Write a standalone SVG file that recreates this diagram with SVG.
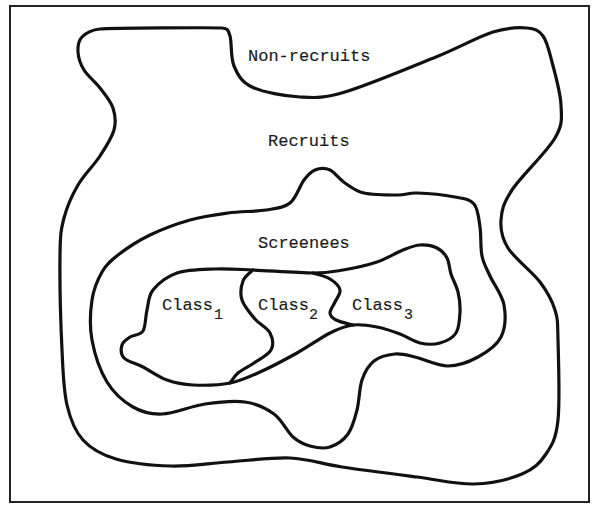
<svg xmlns="http://www.w3.org/2000/svg" width="595" height="508" viewBox="0 0 595 508">
<style>
.bd{fill:none;stroke:#111;stroke-width:3.2;stroke-linejoin:round;stroke-linecap:round}
.fr{fill:none;stroke:#222;stroke-width:2}
.lb{font-family:"Liberation Mono","Courier New",monospace;font-size:17px;fill:#1a1a1a;stroke:#1a1a1a;stroke-width:0.15}
.sb{font-size:15px}
</style>
<rect width="595" height="508" fill="#fff"/>
<rect class="fr" x="10" y="6" width="579" height="496"/>
<g id="recruits">
<path class="bd" d="M82,37 C85.7,33.2 90,30 100,29 C110,28 216,27.5 222,28 C228,28.5 228,29.7 230,36 C232,42.3 230.3,57.5 234,66 C237.7,74.5 241,81.8 252,87 C263,92.2 284.5,96.2 300,97 C315.5,97.8 322.3,98.7 345,92 C367.7,85.3 411.3,67 436,57 C460.7,47 477.8,36.8 493,32 C508.2,27.2 518.7,27.3 527,28 C535.3,28.7 538.8,30.3 543,36 C547.2,41.7 549,50.5 552,62 C555,73.5 560.5,92.3 561,105 C561.5,117.7 563.2,123.8 555,138 C546.8,152.2 521,176.3 512,190 C503,203.7 501.7,210.3 501,220 C500.3,229.7 501.5,237.7 508,248 C514.5,258.3 532.2,271.7 540,282 C547.8,292.3 552,300.3 555,310 C558,319.7 557.5,321.7 558,340 C558.5,358.3 560,401 558,420 C556,439 552,445 546,454 C540,463 534,469 522,474 C510,479 491.5,483.5 474,484 C456.5,484.5 439,479.8 417,477 C395,474.2 363.2,470.2 342,467 C320.8,463.8 309,458.8 290,458 C271,457.2 247.8,460.7 228,462 C208.2,463.3 189.7,466.5 171,466 C152.3,465.5 130.7,463.3 116,459 C101.3,454.7 91.2,449 83,440 C74.8,431 70.5,420 67,405 C63.5,390 63.2,375 62,350 C60.8,325 59.7,277 60,255 C60.3,233 61,229.7 64,218 C67,206.3 72,195.3 78,185 C84,174.7 94,165.2 100,156 C106,146.8 111.8,138 114,130 C116.2,122 115.3,115 113,108 C110.7,101 104.8,94.3 100,88 C95.2,81.7 87.7,76 84,70 C80.3,64 78.3,57.5 78,52 C77.7,46.5 78.3,40.8 82,37 Z"/>
</g>
<g id="screenees">
<path class="bd" d="M304,180 C308.2,174.5 310.7,171.7 315,170 C319.3,168.3 325,167.8 330,170 C335,172.2 339.3,179.2 345,183 C350.7,186.8 355.2,191 364,193 C372.8,195 389.2,195 398,195 C406.8,195 407.5,192.7 417,193 C426.5,193.3 445.5,195.2 455,197 C464.5,198.8 469.8,199 474,204 C478.2,209 478.7,218.3 480,227 C481.3,235.7 480.3,247.8 482,256 C483.7,264.2 486.3,267.8 490,276 C493.7,284.2 502.2,294.8 504,305 C505.8,315.2 505.3,328.3 501,337 C496.7,345.7 486.8,352.2 478,357 C469.2,361.8 458.5,366 448,366 C437.5,366 423.8,359 415,357 C406.2,355 401.8,353.3 395,354 C388.2,354.7 379.5,356.7 374,361 C368.5,365.3 364.8,371.8 362,380 C359.2,388.2 359.3,401 357,410 C354.7,419 352.5,427.8 348,434 C343.5,440.2 336.3,445 330,447 C323.7,449 316.2,447.7 310,446 C303.8,444.3 299,442.3 293,437 C287,431.7 282,419.8 274,414 C266,408.2 256.5,403.7 245,402 C233.5,400.3 218.8,402 205,404 C191.2,406 174,413.5 162,414 C150,414.5 142.2,412.3 133,407 C123.8,401.7 113.8,393.2 107,382 C100.2,370.8 94.5,353.7 92,340 C89.5,326.3 90.3,311.3 92,300 C93.7,288.7 97.7,279.5 102,272 C106.3,264.5 110,261.2 118,255 C126,248.8 138,240.8 150,235 C162,229.2 177,223.7 190,220 C203,216.3 215.3,214.7 228,213 C240.7,211.3 255.7,211.7 266,210 C276.3,208.3 283.7,208 290,203 C296.3,198 299.8,185.5 304,180 Z"/>
</g>
<g id="classes">
<path class="bd" d="M253,270 C269.3,270.7 298,273 313,273 C328,273 332.3,271.8 343,270 C353.7,268.2 367,265.3 377,262 C387,258.7 395.8,252.8 403,250 C410.2,247.2 414.3,245.3 420,245 C425.7,244.7 432.5,245.8 437,248 C441.5,250.2 444.7,253.7 447,258 C449.3,262.3 449.2,268.3 451,274 C452.8,279.7 456.5,285.7 458,292 C459.5,298.3 460.3,305.2 460,312 C459.7,318.8 459.3,327.8 456,333 C452.7,338.2 446,341.3 440,343 C434,344.7 426.7,344.5 420,343 C413.3,341.5 407.2,336.7 400,334 C392.8,331.3 384.8,328.5 377,327 C369.2,325.5 360.8,324 353,325 C345.2,326 339.3,328.3 330,333 C320.7,337.7 308.7,346.5 297,353 C285.3,359.5 271.2,367 260,372 C248.8,377 241.2,380.8 230,383 C218.8,385.2 203.5,385.5 193,385 C182.5,384.5 175.3,383 167,380 C158.7,377 150.2,370.7 143,367 C135.8,363.3 127.5,361.7 124,358 C120.5,354.3 121,348.5 122,345 C123,341.5 126.5,339.3 130,337 C133.5,334.7 140.2,335.5 143,331 C145.8,326.5 145.3,316.8 147,310 C148.7,303.2 148,296.2 153,290 C158,283.8 166.7,276.5 177,273 C187.3,269.5 202.3,269.5 215,269 C227.7,268.5 236.7,269.3 253,270 Z"/>
</g>
<g id="dividers">
<path class="bd" d="M253,270 C251.3,271.8 244.8,276 243,281 C241.2,286 240,293.7 242,300 C244,306.3 250.3,313.5 255,319 C259.7,324.5 267.3,327.8 270,333 C272.7,338.2 273.7,345 271,350 C268.3,355 259.5,359.2 254,363 C248.5,366.8 242,369.7 238,373 C234,376.3 231.3,381.3 230,383"/>
<path class="bd" d="M313,273 C315.8,274 325.5,276.2 330,279 C334.5,281.8 339.2,286.2 340,290 C340.8,293.8 336.7,298.2 335,302 C333.3,305.8 329.8,310 330,313 C330.2,316 332.2,318 336,320 C339.8,322 350.2,324.2 353,325"/>
</g>
<g id="labels">
<text class="lb" x="248" y="61">Non-recruits</text>
<text class="lb" x="268" y="146">Recruits</text>
<text class="lb" x="258" y="248">Screenees</text>
<text class="lb" x="162" y="310">Class<tspan class="sb" x="214" y="319">1</tspan></text>
<text class="lb" x="258" y="310">Class<tspan class="sb" x="309" y="319">2</tspan></text>
<text class="lb" x="352" y="310">Class<tspan class="sb" x="404" y="319">3</tspan></text>
</g>
</svg>
